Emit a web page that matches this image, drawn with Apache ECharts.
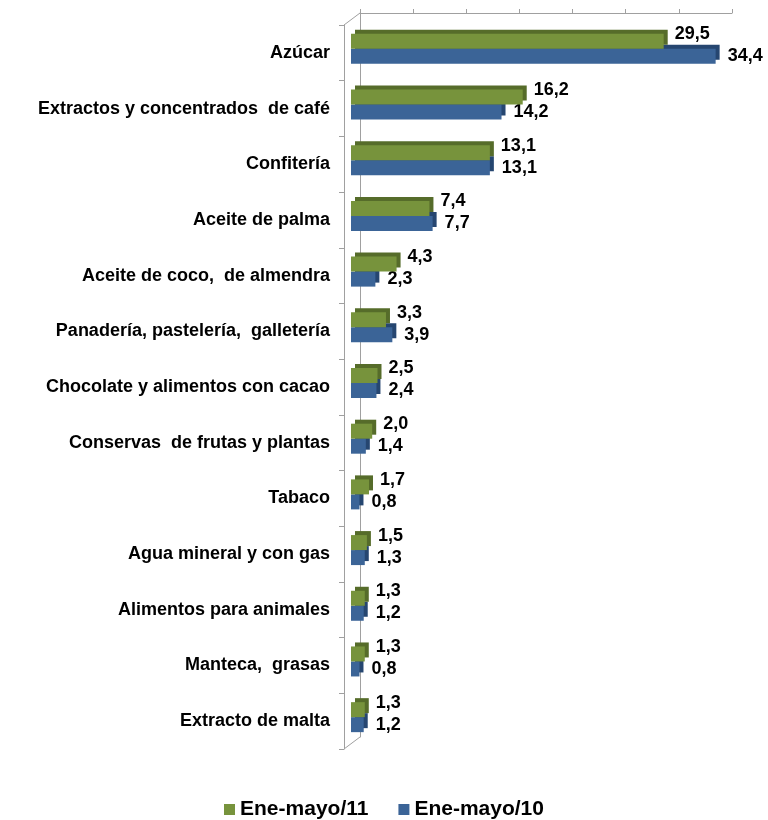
<!DOCTYPE html>
<html>
<head>
<meta charset="utf-8">
<script src="https://cdn.jsdelivr.net/npm/echarts@6/dist/echarts.min.js"></script>
<style>
html,body{margin:0;padding:0;background:#fff;}
#chart{width:768px;height:820px;}
</style>
</head>
<body>
<div id="chart"></div>
<script>
var categories = [
  "Azúcar",
  "Extractos y concentrados  de café",
  "Confitería",
  "Aceite de palma",
  "Aceite de coco,  de almendra",
  "Panadería, pastelería,  galletería",
  "Chocolate y alimentos con cacao",
  "Conservas  de frutas y plantas",
  "Tabaco",
  "Agua mineral y con gas",
  "Alimentos para animales",
  "Manteca,  grasas",
  "Extracto de malta"
];
var seriesNames = ["Ene-mayo/11", "Ene-mayo/10"];
var values2011 = [29.5, 16.2, 13.1, 7.4, 4.3, 3.3, 2.5, 2.0, 1.7, 1.5, 1.3, 1.3, 1.3];
var values2010 = [34.4, 14.2, 13.1, 7.7, 2.3, 3.9, 2.4, 1.4, 0.8, 1.3, 1.2, 0.8, 1.2];
var axisMax = 35;
var axisStep = 5;

var chart = echarts.init(document.getElementById('chart'), null, {renderer: 'canvas'});
var FONT = '"Liberation Sans", Arial, sans-serif';
var AX = '#A0A0A0';
function fmt(p){ return p.value.toFixed(1).replace('.', ','); }

var option = {
  animation: false,
  backgroundColor: '#ffffff',
  textStyle: {fontFamily: FONT},
  legend: {
    data: seriesNames,
    icon: 'rect',
    left: 'center',
    top: 794,
    itemWidth: 11,
    itemHeight: 11,
    itemGap: 30,
    textStyle: {fontFamily: FONT, fontWeight: 'bold', fontSize: 21, color: '#000'}
  },
  grid: [
    {left: 344, right: 46, top: 25, bottom: 71},
    {left: 351, right: 46, top: 21, bottom: 75},
    {left: 360, right: 36, top: 13, bottom: 83}
  ],
  xAxis: [
    {gridIndex: 0, type: 'value', min: 0, max: axisMax, show: false},
    {gridIndex: 1, type: 'value', min: 0, max: axisMax, show: false},
    {gridIndex: 2, type: 'value', min: 0, max: axisMax, interval: axisStep, position: 'top',
     axisLine: {show: true, onZero: false, lineStyle: {color: AX, width: 1}},
     axisTick: {show: true, length: 4, lineStyle: {color: AX}},
     axisLabel: {show: false}, splitLine: {show: false}}
  ],
  yAxis: [
    {gridIndex: 0, type: 'category', data: categories, inverse: true,
     axisLine: {show: true, lineStyle: {color: AX, width: 1}},
     axisTick: {show: true, length: 5, lineStyle: {color: AX}},
     axisLabel: {margin: 14, color: '#000', fontFamily: FONT, fontWeight: 'bold', fontSize: 18}},
    {gridIndex: 1, type: 'category', data: categories, inverse: true, show: false},
    {gridIndex: 2, type: 'value', min: 0, max: 1,
     axisLine: {show: true, onZero: false, lineStyle: {color: AX, width: 1}},
     axisTick: {show: false}, axisLabel: {show: false}, splitLine: {show: false}}
  ],
  graphic: [
    {type: 'line', shape: {x1: 344, y1: 25, x2: 360, y2: 13}, style: {stroke: AX, lineWidth: 1}},
    {type: 'line', shape: {x1: 344, y1: 749, x2: 360, y2: 737}, style: {stroke: AX, lineWidth: 1}}
  ],
  series: [
    {
      name: seriesNames[0], type: 'bar', xAxisIndex: 1, yAxisIndex: 1,
      data: values2011, barWidth: 15, barGap: '0%', z: 3,
      itemStyle: {color: '#77933C', shadowColor: '#566C2A', shadowOffsetX: 4, shadowOffsetY: -4, shadowBlur: 0},
      label: {show: true, position: 'right', distance: 11, offset: [0, -7], formatter: fmt,
              color: '#000', fontFamily: FONT, fontWeight: 'bold', fontSize: 18}
    },
    {
      name: seriesNames[1], type: 'bar', xAxisIndex: 1, yAxisIndex: 1,
      data: values2010, barWidth: 15, barGap: '0%', z: 2,
      itemStyle: {color: '#3B6497', shadowColor: '#264670', shadowOffsetX: 4, shadowOffsetY: -4, shadowBlur: 0},
      label: {show: true, position: 'right', distance: 12, offset: [0, 0], formatter: fmt,
              color: '#000', fontFamily: FONT, fontWeight: 'bold', fontSize: 18}
    }
  ]
};
chart.setOption(option);
</script>
</body>
</html>
